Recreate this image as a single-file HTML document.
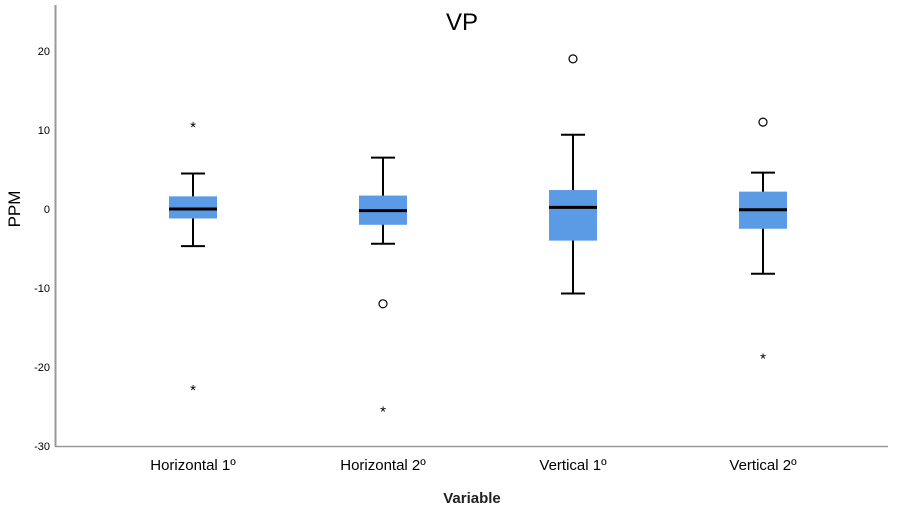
<!DOCTYPE html>
<html><head><meta charset="utf-8"><style>
body{margin:0;background:#fff;}
svg{display:block;font-family:"Liberation Sans",sans-serif;}
</style></head><body>
<svg id="chart" width="905" height="510">
<text x="462" y="30" font-size="24" text-anchor="middle" fill="#000">VP</text>
<line x1="55.5" y1="5" x2="55.5" y2="446.5" stroke="#999" stroke-width="2"/>
<line x1="55" y1="446.5" x2="888" y2="446.5" stroke="#999" stroke-width="1.5"/>
<text transform="translate(20,209) rotate(-90)" font-size="17" text-anchor="middle" fill="#000">PPM</text>
<text x="472" y="503" font-size="15" font-weight="bold" text-anchor="middle" fill="#222">Variable</text>
<g id="marks"></g>
</svg>
<script>
const categories=["Horizontal 1º","Horizontal 2º","Vertical 1º","Vertical 2º"];
const whiskerLow=[-4.7,-4.4,-10.7,-8.2];
const q1=[-1.2,-2.0,-4.0,-2.5];
const median=[0,-0.2,0.2,-0.1];
const q3=[1.6,1.7,2.4,2.2];
const whiskerHigh=[4.5,6.5,9.4,4.6];
const circleOutliers=[[],[-12],[19],[11]];
const starOutliers=[[10.5,-22.8],[-25.5],[],[-18.8]];
const yTicks=[20,10,0,-10,-20,-30];
const NS="http://www.w3.org/2000/svg";
const svg=document.getElementById('chart');
const g=document.getElementById('marks');
function y(v){return 209-v*7.9;}
function x(i){return 193+i*190;}
function mk(tag,attrs,parent){const e=document.createElementNS(NS,tag);for(const k in attrs)e.setAttribute(k,attrs[k]);(parent||g).appendChild(e);return e;}
yTicks.forEach(t=>{
  const e=mk('text',{x:50,y:y(t)+4,'font-size':11,'text-anchor':'end',fill:'#000'});
  e.textContent=t;
  
  
});
categories.forEach((c,i)=>{
  const cx=x(i);
  const lab=mk('text',{x:cx,y:470,'font-size':15,'text-anchor':'middle',fill:'#000'});
  lab.textContent=c;
  
  
  const w=mk('line',{x1:cx,x2:cx,y1:y(whiskerHigh[i]),y2:y(whiskerLow[i]),stroke:'#000','stroke-width':2});
  
  
  [whiskerHigh[i],whiskerLow[i]].forEach(v=>{
    const cap=mk('line',{x1:cx-12,x2:cx+12,y1:y(v),y2:y(v),stroke:'#000','stroke-width':2});
    
    
  });
  const b=mk('rect',{x:cx-24,y:y(q3[i]),width:48,height:y(q1[i])-y(q3[i]),fill:'#5b9be6'});
  
  
  const m=mk('line',{x1:cx-24,x2:cx+24,y1:y(median[i]),y2:y(median[i]),stroke:'#000','stroke-width':3});
  
  
  circleOutliers[i].forEach(v=>{
    const o=mk('circle',{cx:cx,cy:y(v),r:4,fill:'none',stroke:'#000','stroke-width':1.2});
    
    
  });
  starOutliers[i].forEach(v=>{
    const s=mk('text',{x:cx,y:y(v)+6,'font-size':15,'text-anchor':'middle',fill:'#000'});
    s.textContent='*';
    
    
  });
});
</script>
</body></html>
